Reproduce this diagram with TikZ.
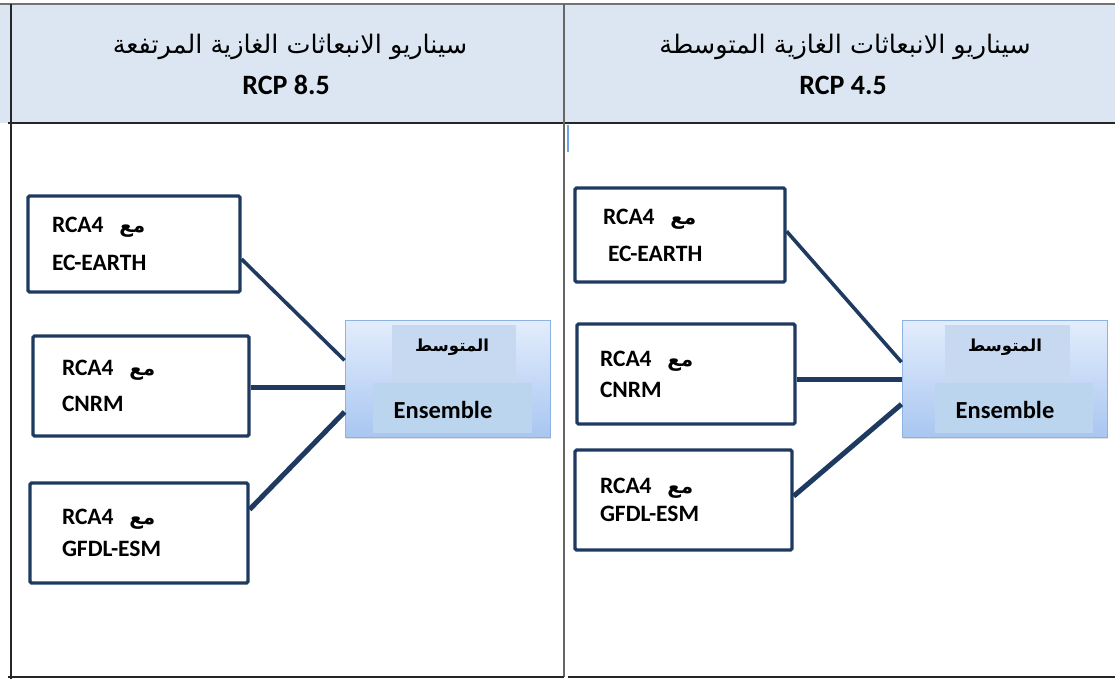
\documentclass[tikz,border=0pt]{standalone}
\usepackage{fontspec}
\setmainfont{Carlito}
\newfontfamily\arabicfont[Script=Arabic]{DejaVu Sans}
\TeXXeTstate=1
\usetikzlibrary{shadows}

\definecolor{hdrfill}{HTML}{DCE6F2}
\definecolor{navy}{HTML}{1F3A60}
\definecolor{ensedge}{HTML}{8DB3E2}
\definecolor{enstop}{HTML}{E3EDFC}
\definecolor{ensbot}{HTML}{A9C6F1}
\definecolor{avgfill}{HTML}{C6D9F0}
\definecolor{ensfill}{HTML}{BCD5EE}
\definecolor{sepblue}{HTML}{6AA6E8}

\newcommand{\withrca}{RCA4~~{\arabicfont\fontsize{20}{24}\selectfont\beginR مع\endR}}

\tikzset{
  model/.style={draw=navy, line width=3.2pt, rounded corners=1.5pt, fill=white,
    align=left, inner ysep=0pt, font=\bfseries\fontsize{23.5}{27}\selectfont},
  link/.style={draw=navy, line width=3.6pt},
  heavylink/.style={draw=navy, line width=5pt},
  ensbox/.style={draw=ensedge, line width=1pt, top color=enstop, bottom color=ensbot,
    minimum width=205pt, minimum height=117pt, inner sep=0pt,
    drop shadow={opacity=0.25, shadow xshift=1pt, shadow yshift=-2pt}},
  avgbox/.style={fill=avgfill, inner sep=0pt},
  enspart/.style={fill=ensfill, inner sep=0pt},
  avgtext/.style={font=\arabicfont\bfseries\fontsize{16.5}{20}\selectfont, inner sep=0pt},
  enstext/.style={font=\bfseries\fontsize{24.5}{28}\selectfont, inner sep=0pt},
  titletext/.style={font=\arabicfont\fontsize{25.5}{30}\selectfont, inner sep=0pt},
  rcptext/.style={font=\bfseries\fontsize{28}{32}\selectfont, inner sep=0pt},
}

\begin{document}
\begin{tikzpicture}[x=1pt, y=-1pt]
\useasboundingbox (0,0) rectangle (1115,679);

% table frame and header band
\fill[hdrfill] (0,4) rectangle (1115,123);
\draw[gray!90!black, line width=1.6pt] (0,4) -- (1115,4);
\draw[black!85, line width=2pt] (8,123) -- (1115,123);
\draw[black!85, line width=1.5pt] (11,4) -- (11,679);
\draw[black!60, line width=2pt] (564,4) -- (564,677);
\draw[sepblue, line width=2pt] (568,125) -- (568,152);
\draw[black!85, line width=2pt] (8,677) -- (564,677);
\draw[black!85, line width=2pt] (568,677) -- (1115,677);

% column titles
\node[titletext] (titleL) at (290,47) {\beginR سيناريو الانبعاثات الغازية المرتفعة\endR};
\node[rcptext] (rcpL) at (286,85) {RCP 8.5};
\node[titletext] (titleR) at (845,47) {\beginR سيناريو الانبعاثات الغازية المتوسطة\endR};
\node[rcptext] (rcpR) at (843,85) {RCP 4.5};

% RCP 8.5 column
\node[model, minimum width=212pt, minimum height=96pt, inner xsep=24pt, text width=164pt]
  (ecL) at (134,244) {\withrca\\[11pt]EC-EARTH};
\node[model, minimum width=216pt, minimum height=100pt, inner xsep=29pt, text width=158pt]
  (cnL) at (141,386) {\withrca\\[9pt]CNRM};
\node[model, minimum width=218pt, minimum height=100pt, inner xsep=32pt, text width=154pt]
  (gfL) at (139,533) {\withrca\\[5pt]GFDL-ESM};

\node[ensbox] (ensL) at (447.5,378.5) {};
\node[avgbox, minimum width=124pt, minimum height=58pt] (avgbgL) at (454,354) {};
\node[enspart, minimum width=159pt, minimum height=50pt] (ensbgL) at (452.5,408) {};
\node[avgtext] (avgL) at (452,347) {\beginR المتوسط\endR};
\node[enstext] (enstL) at (443,410) {Ensemble};

\draw[link] (ecL.-8) -- (ensL.170);
\draw[heavylink] (cnL.-1) -- (cnL.-1 -| ensL.west);
\draw[heavylink] (gfL.12) -- (ensL.198.6);

% RCP 4.5 column
\node[model, minimum width=210pt, minimum height=94pt, inner xsep=28pt, text width=154pt]
  (ecR) at (680,235) {\withrca\\[10pt]\hspace*{5pt}EC-EARTH};
\node[model, minimum width=218pt, minimum height=100pt, inner xsep=23pt, text width=172pt]
  (cnR) at (686,374) {\withrca\\[4pt]CNRM};
\node[model, minimum width=217pt, minimum height=100pt, inner xsep=25pt, text width=167pt]
  (gfR) at (683.5,500) {\withrca\\[1pt]GFDL-ESM};

\node[ensbox] (ensR) at (1004.5,378.5) {};
\node[avgbox, minimum width=125pt, minimum height=58pt] (avgbgR) at (1007.5,354) {};
\node[enspart, minimum width=158pt, minimum height=50pt] (ensbgR) at (1014,408) {};
\node[avgtext] (avgR) at (1005,347) {\beginR المتوسط\endR};
\node[enstext] (enstR) at (1005,410) {Ensemble};

\draw[link] (ecR.2) -- (ensR.171);
\draw[heavylink] (cnR.-3) -- (cnR.-3 -| ensR.west);
\draw[heavylink] (gfR.2) -- (ensR.194.5);
\end{tikzpicture}
\end{document}
